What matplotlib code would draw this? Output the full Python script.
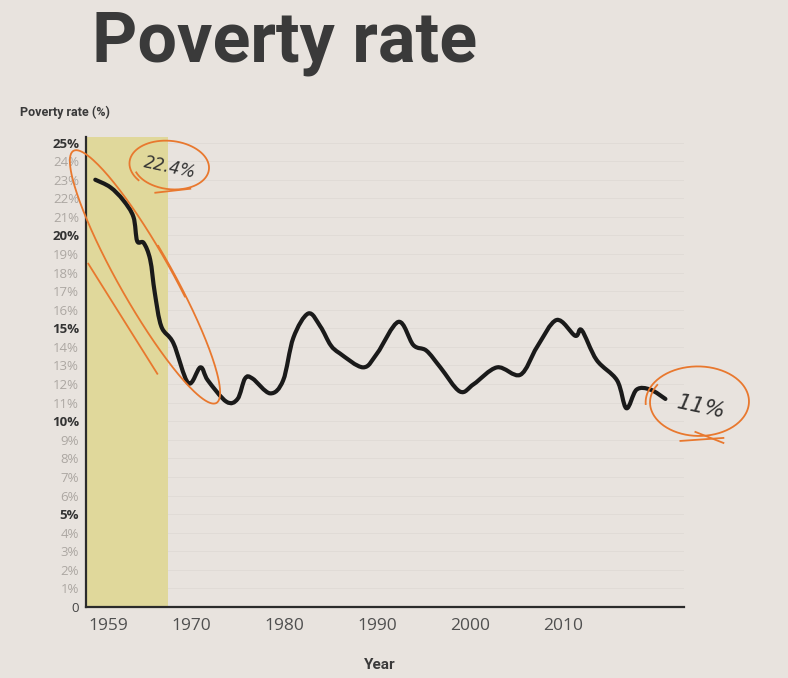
import numpy as np
import matplotlib.pyplot as plt
from matplotlib.path import Path
from matplotlib.patches import PathPatch

# values
years = [1959.7, 1961.3, 1962.7, 1963.8, 1964.2, 1964.9, 1965.6, 1966.1, 1966.8,
         1968.1, 1969.7, 1971.0, 1971.8, 1973.8, 1975.0, 1975.8, 1976.6, 1978.5,
         1979.9, 1981.0, 1982.6, 1983.9, 1985.0, 1986.0, 1988.5, 1990.0, 1992.3,
         1993.9, 1995.3, 1996.8, 1998.9, 2000.4, 2002.9, 2005.4, 2007.2, 2009.3,
         2011.3, 2012.0, 2013.6, 2015.8, 2016.8, 2017.9, 2019.4, 2021.0]
rate = [23.0, 22.6, 21.9, 21.0, 19.7, 19.6, 18.7, 16.9, 15.1,
        14.2, 12.05, 12.9, 12.2, 11.05, 11.2, 12.3, 12.3, 11.5,
        12.2, 14.5, 15.8, 15.1, 14.1, 13.65, 12.9, 13.65, 15.35,
        14.1, 13.8, 12.9, 11.6, 12.0, 12.9, 12.5, 14.0, 15.45,
        14.6, 14.9, 13.3, 12.2, 10.7, 11.7, 11.7, 11.2]

ytick_vals = list(range(0, 26))
ytick_labels = ['0'] + [f'{v}%' for v in range(1, 26)]
xtick_years = [1959, 1970, 1980, 1990, 2000, 2010]
xtick_labels = ['1959', '1970', '1980', '1990', '2000', '2010']
band_start, band_end = 1958.7, 1967.5
first_note = '22.4%'
last_note = '11%'

bg = '#e8e3de'
orange = '#e8782e'

fig = plt.figure(figsize=(7.88, 6.78), dpi=100, facecolor=bg)
ax = fig.add_axes([86/788, 1-607/678, (684-86)/788, (607-137)/678])
ax.set_facecolor(bg)
ax.set_xlim(1958.7, 2023.0)
ax.set_ylim(0, 25.3)

for v in ytick_vals[1:]:
    ax.axhline(v, color='#e0dbd6', lw=0.7, zorder=0)
ax.axvspan(band_start, band_end, color='#e0d898', alpha=0.95, zorder=0.5, lw=0)

# smooth pen-like line through the traced points (Catmull-Rom as bezier path)
pts = np.column_stack([years, rate])
verts = [pts[0]]
codes = [Path.MOVETO]
for i in range(len(pts) - 1):
    p0 = pts[i - 1] if i > 0 else pts[i]
    p1 = pts[i]
    p2 = pts[i + 1]
    p3 = pts[i + 2] if i + 2 < len(pts) else pts[i + 1]
    verts += [p1 + (p2 - p0) / 6, p2 - (p3 - p1) / 6, p2]
    codes += [Path.CURVE4] * 3
ax.add_patch(PathPatch(Path(verts, codes), fill=False, edgecolor='#1a1a1a', lw=3.0,
                       capstyle='round', joinstyle='round', zorder=3))

for s in ['top', 'right']:
    ax.spines[s].set_visible(False)
for s in ['left', 'bottom']:
    ax.spines[s].set_color('#2b2b2b')
    ax.spines[s].set_linewidth(1.6)

ax.set_yticks(ytick_vals)
ax.set_yticklabels(ytick_labels, fontfamily='Open Sans', fontsize=9.5)
for v, lab in zip(ytick_vals, ax.get_yticklabels()):
    if v == 0:
        lab.set_color('#444444')
    elif v % 5 == 0:
        lab.set_color('#333333')
        lab.set_fontweight('bold')
    else:
        lab.set_color('#aca7a2')
ax.tick_params(axis='y', length=0, pad=5)

ax.set_xticks(xtick_years)
ax.set_xticklabels(xtick_labels, fontfamily='Open Sans', fontsize=12.5, color='#505050')
ax.get_xticklabels()[0].set_horizontalalignment('left')
ax.tick_params(axis='x', length=0, pad=8)

fig.text(92/788, 1-62/678, 'Poverty rate', fontfamily='Roboto', fontweight='bold',
         fontsize=50.5, color='#3a3a3a', ha='left', va='baseline')
fig.text(20/788, 1-112/678, 'Poverty rate (%)', fontfamily='Roboto', fontweight='bold',
         fontsize=9, color='#3a3a3a', ha='left', va='center')
fig.text(380/788, 1-665/678, 'Year', fontfamily='Roboto', fontweight='bold',
         fontsize=11, color='#3a3a3a', ha='center', va='center')


# hand drawn marks, placed in pixels relative to a data point
def px_to_data(anchor, pts):
    base = ax.transData.transform(anchor)
    disp = np.column_stack([base[0] + pts[:, 0], base[1] + pts[:, 1]])
    return ax.transData.inverted().transform(disp)


def loop(anchor, dx, dy, a, b, angle, t0=0.0, t1=2*np.pi + 0.5, grow=0.06):
    t = np.linspace(t0, t1, 240)
    r = 1 + grow * (t - t0) / (t1 - t0)
    x = a * r * np.cos(t)
    y = b * r * np.sin(t)
    th = np.radians(angle)
    pts = np.column_stack([dx + x*np.cos(th) - y*np.sin(th),
                           dy + x*np.sin(th) + y*np.cos(th)])
    d = px_to_data(anchor, pts)
    ax.plot(d[:, 0], d[:, 1], color=orange, lw=1.3, clip_on=False, zorder=4)


def stroke(anchor, p0, p1):
    d = px_to_data(anchor, np.array([p0, p1], dtype=float))
    ax.plot(d[:, 0], d[:, 1], color=orange, lw=1.3, clip_on=False, zorder=4)


start = (years[0], rate[0])
end = (years[-1], rate[-1])

# big loop round the early drop
loop(start, 49, -96, 142, 26, -60.5, t0=1.3, t1=2*np.pi + 1.7, grow=0.04)
stroke(start, (-7, -84), (62, -194))

# small loop with the first value
loop(start, 75, 14, 37, 23, -6, t0=3.6, t1=2*np.pi + 3.9, grow=0.12)
stroke(start, (60, -13), (95, -9))
ax.annotate(first_note, start, xytext=(75, 12), textcoords='offset pixels',
            fontfamily='DejaVu Sans', fontstyle='oblique', fontweight='light',
            fontsize=12, color='#333333', rotation=-12, ha='center', va='center',
            zorder=5)

# loop with the last value
loop(end, 33, -3, 48, 33, 0, t0=2.6, t1=2*np.pi + 3.2, grow=0.1)
stroke(end, (15, -42), (58, -39))
stroke(end, (30, -33), (58, -44))
ax.annotate(last_note, end, xytext=(36, -8), textcoords='offset pixels',
            fontfamily='DejaVu Sans', fontstyle='oblique', fontweight='light',
            fontsize=16, color='#333333', rotation=-12, ha='center', va='center',
            zorder=5)

fig.savefig('out.png', dpi=100, facecolor=bg)
